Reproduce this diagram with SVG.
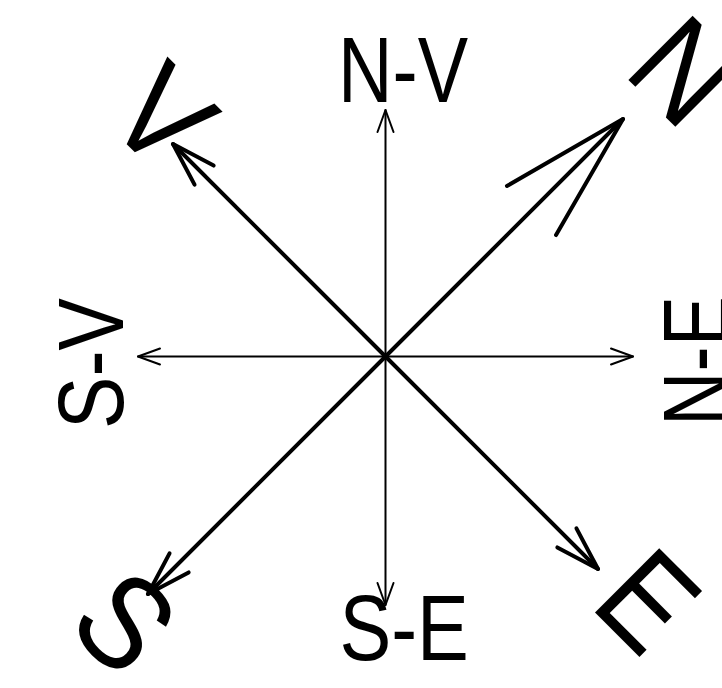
<svg xmlns="http://www.w3.org/2000/svg" width="722" height="688" viewBox="0 0 722 688">
  <style>
    text { font-family: "Liberation Sans", Arial, sans-serif; fill: #000; }
    .lbl { font-size: 93px; }
    .big { font-size: 132px; }
    .thin { stroke: #000; stroke-width: 2; fill: none; stroke-linecap: round; }
    .thick { stroke: #000; stroke-width: 4; fill: none; stroke-linecap: round; }
  </style>
  <defs>
    <marker id="head-thin" markerUnits="userSpaceOnUse" orient="auto" refX="0" refY="0" markerWidth="1" markerHeight="1" overflow="visible">
      <path d="M -22 -8 L 0 0 L -22 8" fill="none" stroke="#000" stroke-width="2" stroke-linecap="round" stroke-linejoin="round"/>
    </marker>
    <marker id="head-thick" markerUnits="userSpaceOnUse" orient="auto" refX="0" refY="0" markerWidth="1" markerHeight="1" overflow="visible">
      <path d="M -44 -13.5 L 0 0 L -44 13.5" fill="none" stroke="#000" stroke-width="4" stroke-linecap="round" stroke-linejoin="round"/>
    </marker>
    <marker id="head-big" markerUnits="userSpaceOnUse" orient="auto" refX="0" refY="0" markerWidth="1" markerHeight="1" overflow="visible">
      <path d="M -129.4 -34.7 L 0 0 L -129.4 34.7" fill="none" stroke="#000" stroke-width="4" stroke-linecap="round" stroke-linejoin="round"/>
    </marker>
  </defs>

  <g id="connectors">
    <line class="thin" x1="385.5" y1="356.5" x2="385.5" y2="110" marker-end="url(#head-thin)"/>
    <line class="thin" x1="385.5" y1="356.5" x2="385.5" y2="605" marker-end="url(#head-thin)"/>
    <line class="thin" x1="385.5" y1="356.5" x2="138" y2="356.5" marker-end="url(#head-thin)"/>
    <line class="thin" x1="385.5" y1="356.5" x2="633" y2="356.5" marker-end="url(#head-thin)"/>
    <line class="thick" x1="385.5" y1="356.5" x2="623" y2="119" marker-end="url(#head-big)"/>
    <line class="thick" x1="385.5" y1="356.5" x2="173" y2="144" marker-end="url(#head-thick)"/>
    <line class="thick" x1="385.5" y1="356.5" x2="598" y2="569" marker-end="url(#head-thick)"/>
    <line class="thick" x1="385.5" y1="356.5" x2="148" y2="594" marker-end="url(#head-thick)"/>
  </g>

  <g id="node-NV">
    <text class="lbl" x="338" y="102" textLength="130" lengthAdjust="spacingAndGlyphs">N-V</text>
  </g>
  <g id="node-SE">
    <text class="lbl" x="339.4" y="660" textLength="129.5" lengthAdjust="spacingAndGlyphs">S-E</text>
  </g>
  <g id="node-SV" transform="translate(123,429) rotate(-90)">
    <text class="lbl" x="0" y="0" textLength="131" lengthAdjust="spacingAndGlyphs">S-V</text>
  </g>
  <g id="node-NE" transform="translate(728,426) rotate(-90)">
    <text class="lbl" x="0" y="0" textLength="130" lengthAdjust="spacingAndGlyphs">N-E</text>
  </g>

  <g id="node-N" transform="translate(685,70) rotate(45) scale(0.9,1)">
    <text class="big" x="0" y="47" text-anchor="middle">N</text>
  </g>
  <g id="node-V" transform="translate(164,115) rotate(45) scale(0.9,1)">
    <text class="big" x="0" y="47" text-anchor="middle">V</text>
  </g>
  <g id="node-E" transform="translate(649,600) rotate(45) scale(0.88,1)">
    <text class="big" x="0" y="47" text-anchor="middle">E</text>
  </g>
  <g id="node-S" transform="translate(126,621) rotate(45) scale(0.9,1)">
    <text class="big" x="0" y="47" text-anchor="middle">S</text>
  </g>
</svg>
